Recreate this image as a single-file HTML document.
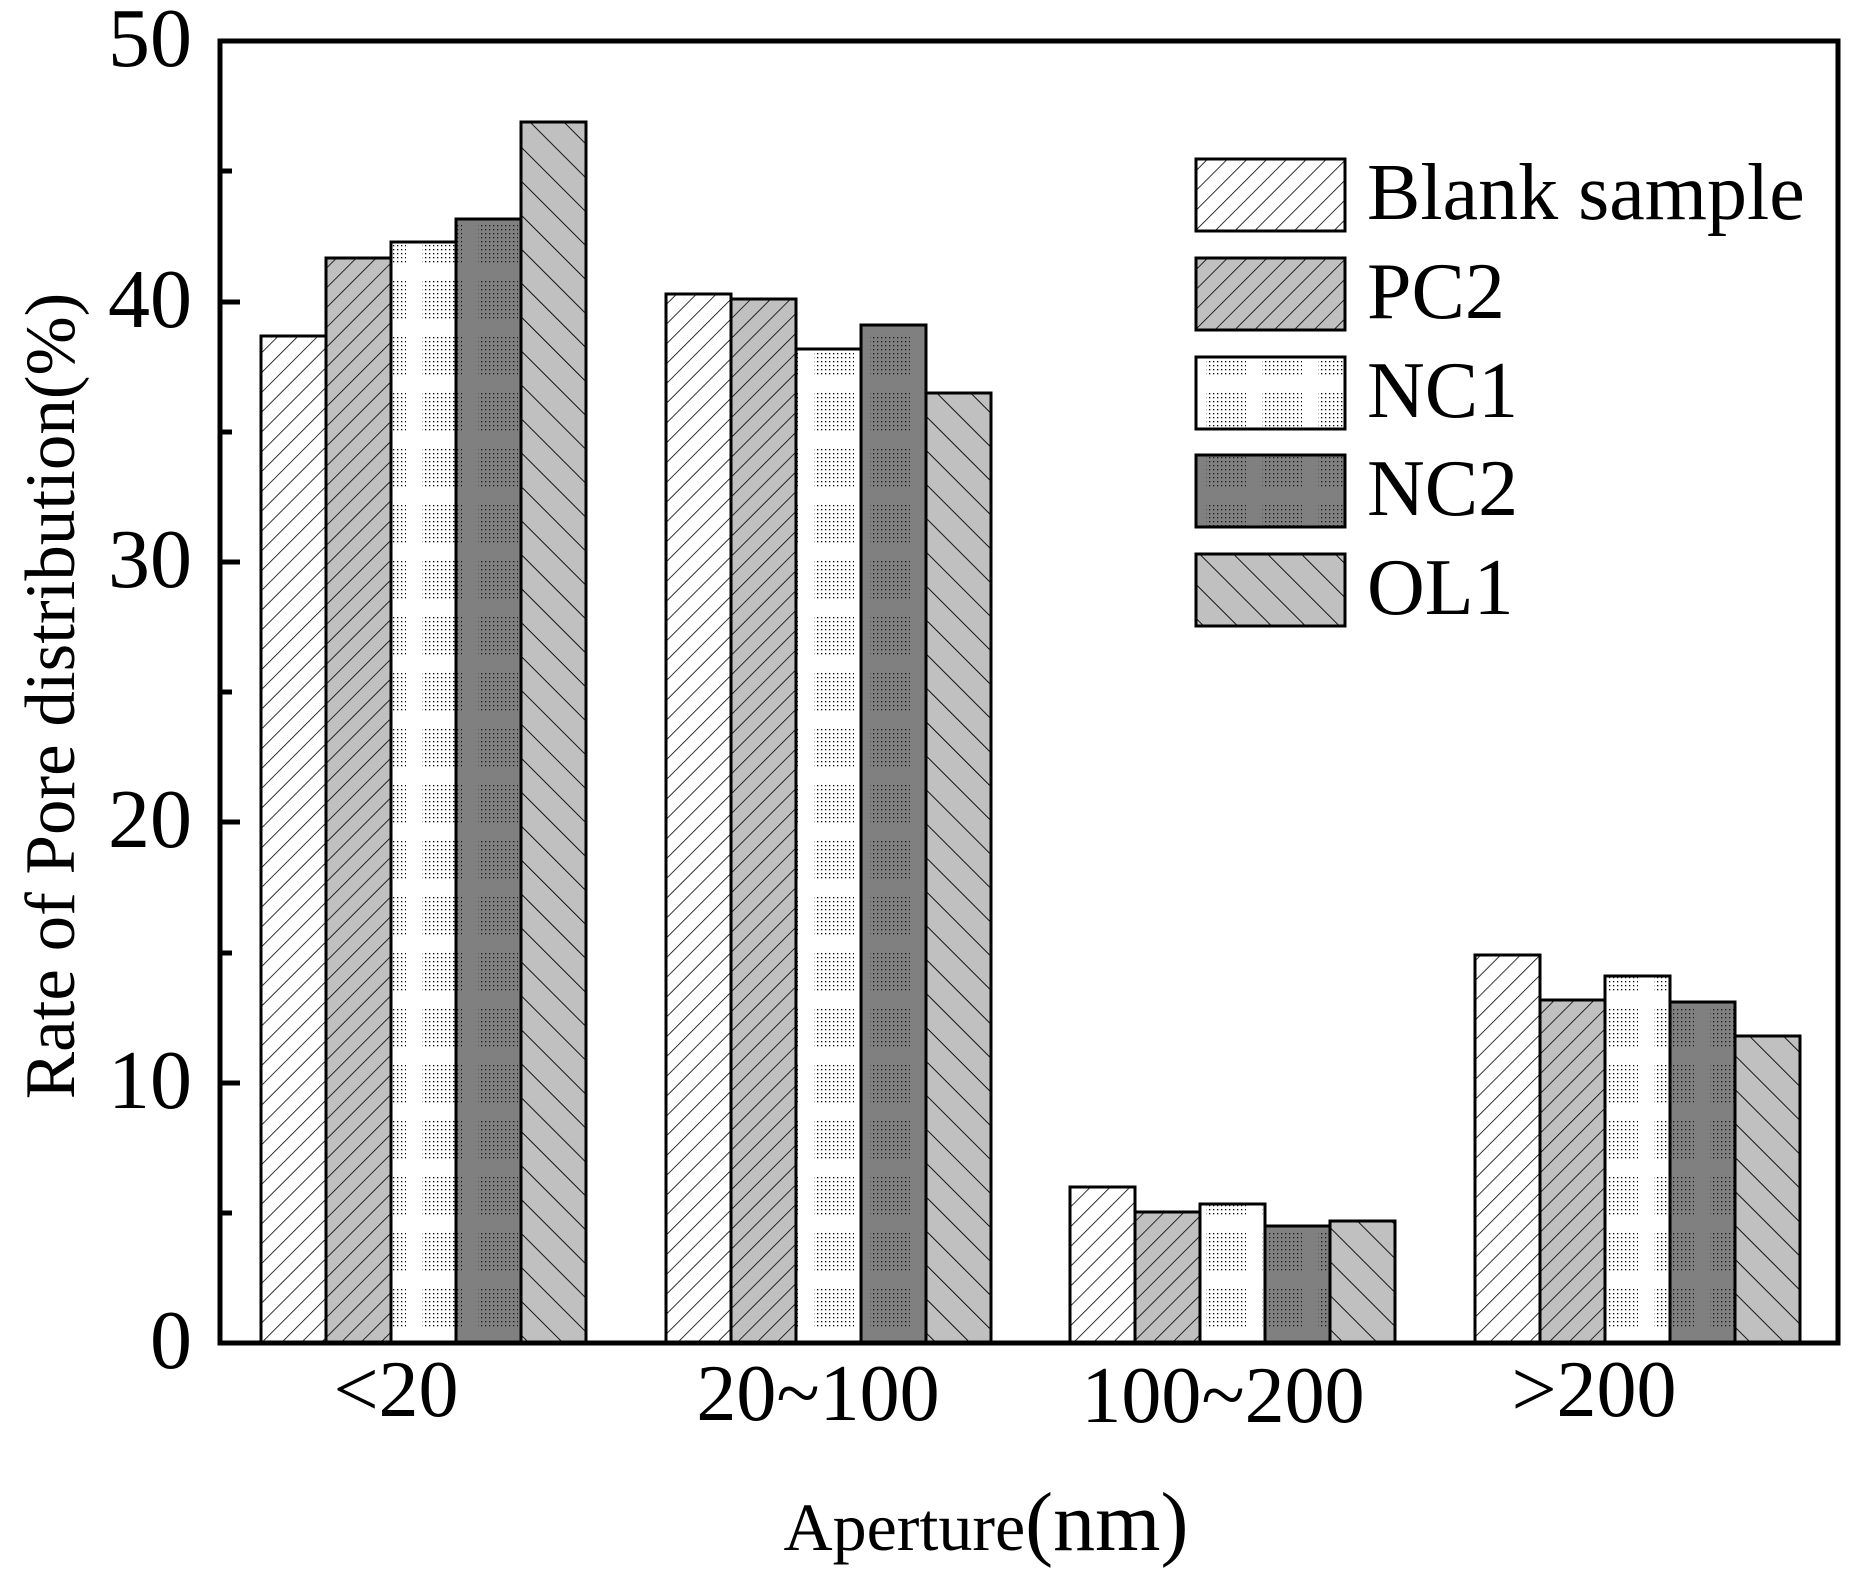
<!DOCTYPE html>
<html><head><style>html,body{margin:0;padding:0;background:#fff}</style></head><body>
<svg width="1850" height="1579" viewBox="0 0 1850 1579" xmlns="http://www.w3.org/2000/svg" font-family="Liberation Serif, serif">
<defs>
<pattern id="dots" width="4" height="4" patternUnits="userSpaceOnUse"><rect x="1" y="1" width="1.3" height="1.3" fill="#000"/></pattern>
<pattern id="blank" width="14" height="14" patternUnits="userSpaceOnUse" patternTransform="rotate(45)"><rect width="14" height="14" fill="#fff"/><line x1="0" y1="0" x2="0" y2="14" stroke="#000" stroke-width="1.6"/></pattern>
<pattern id="pc2" width="14" height="14" patternUnits="userSpaceOnUse" patternTransform="rotate(45)"><rect width="14" height="14" fill="#c0c0c0"/><line x1="0" y1="0" x2="0" y2="14" stroke="#000" stroke-width="1.6"/></pattern>
<pattern id="ol1" width="24" height="24" patternUnits="userSpaceOnUse" patternTransform="rotate(-45)"><rect width="24" height="24" fill="#c0c0c0"/><line x1="0" y1="0" x2="0" y2="24" stroke="#000" stroke-width="1.8"/></pattern>
<pattern id="nc1" width="56" height="56" patternUnits="userSpaceOnUse"><rect width="56" height="56" fill="#fff"/><rect x="0" y="0" width="14" height="40" fill="url(#dots)"/><rect x="30" y="0" width="26" height="40" fill="url(#dots)"/></pattern>
<pattern id="nc2" width="56" height="56" patternUnits="userSpaceOnUse"><rect width="56" height="56" fill="#808080"/><rect x="0" y="0" width="14" height="40" fill="url(#dots)" opacity="0.8"/><rect x="30" y="0" width="26" height="40" fill="url(#dots)" opacity="0.8"/></pattern>
</defs>
<g stroke="#000" stroke-width="3">
<rect x="261" y="336" width="65" height="1007" fill="url(#blank)"/>
<rect x="326" y="258" width="65" height="1085" fill="url(#pc2)"/>
<rect x="391" y="242" width="65" height="1101" fill="url(#nc1)"/>
<rect x="456" y="219" width="65" height="1124" fill="url(#nc2)"/>
<rect x="521" y="122" width="65" height="1221" fill="url(#ol1)"/>
<rect x="666" y="294" width="65" height="1049" fill="url(#blank)"/>
<rect x="731" y="299" width="65" height="1044" fill="url(#pc2)"/>
<rect x="796" y="349" width="65" height="994" fill="url(#nc1)"/>
<rect x="861" y="325" width="65" height="1018" fill="url(#nc2)"/>
<rect x="926" y="393" width="65" height="950" fill="url(#ol1)"/>
<rect x="1070" y="1187" width="65" height="156" fill="url(#blank)"/>
<rect x="1135" y="1212" width="65" height="131" fill="url(#pc2)"/>
<rect x="1200" y="1204" width="65" height="139" fill="url(#nc1)"/>
<rect x="1265" y="1226" width="65" height="117" fill="url(#nc2)"/>
<rect x="1330" y="1221" width="65" height="122" fill="url(#ol1)"/>
<rect x="1475" y="955" width="65" height="388" fill="url(#blank)"/>
<rect x="1540" y="1000" width="65" height="343" fill="url(#pc2)"/>
<rect x="1605" y="976" width="65" height="367" fill="url(#nc1)"/>
<rect x="1670" y="1002" width="65" height="341" fill="url(#nc2)"/>
<rect x="1735" y="1036" width="65" height="307" fill="url(#ol1)"/>
<rect x="1196" y="159" width="149" height="72" fill="url(#blank)"/>
<rect x="1196" y="258" width="149" height="72" fill="url(#pc2)"/>
<rect x="1196" y="357" width="149" height="72" fill="url(#nc1)"/>
<rect x="1196" y="455" width="149" height="72" fill="url(#nc2)"/>
<rect x="1196" y="554" width="149" height="72" fill="url(#ol1)"/>
</g>
<rect x="220" y="41" width="1618" height="1302" fill="none" stroke="#000" stroke-width="5"/>
<g stroke="#000" stroke-width="5">
<line x1="220" y1="1343" x2="240" y2="1343"/><line x1="220" y1="1213" x2="232" y2="1213"/>
<line x1="220" y1="1083" x2="240" y2="1083"/><line x1="220" y1="953" x2="232" y2="953"/>
<line x1="220" y1="822" x2="240" y2="822"/><line x1="220" y1="692" x2="232" y2="692"/>
<line x1="220" y1="562" x2="240" y2="562"/><line x1="220" y1="432" x2="232" y2="432"/>
<line x1="220" y1="302" x2="240" y2="302"/><line x1="220" y1="171" x2="232" y2="171"/>
</g>
<g font-size="84" text-anchor="end" fill="#000">
<text x="192" y="1368">0</text><text x="192" y="1108">10</text><text x="192" y="847">20</text>
<text x="192" y="587">30</text><text x="192" y="327">40</text><text x="192" y="66">50</text>
</g>
<g font-size="80" text-anchor="middle" fill="#000">
<text x="396" y="1416">&lt;20</text><text x="818" y="1420">20~100</text>
<text x="1223" y="1422">100~200</text><text x="1594" y="1416">&gt;200</text>
</g>
<text x="986" y="1550" text-anchor="middle" fill="#000"><tspan font-size="68">Aperture</tspan><tspan font-size="84">(nm)</tspan></text>
<text transform="translate(74,696) rotate(-90)" text-anchor="middle" font-size="71" fill="#000">Rate of Pore distribution(%)</text>
<g font-size="80" fill="#000">
<text x="1367" y="219">Blank sample</text><text x="1367" y="318">PC2</text>
<text x="1367" y="417">NC1</text><text x="1367" y="515">NC2</text><text x="1367" y="614">OL1</text>
</g>
</svg>
</body></html>
